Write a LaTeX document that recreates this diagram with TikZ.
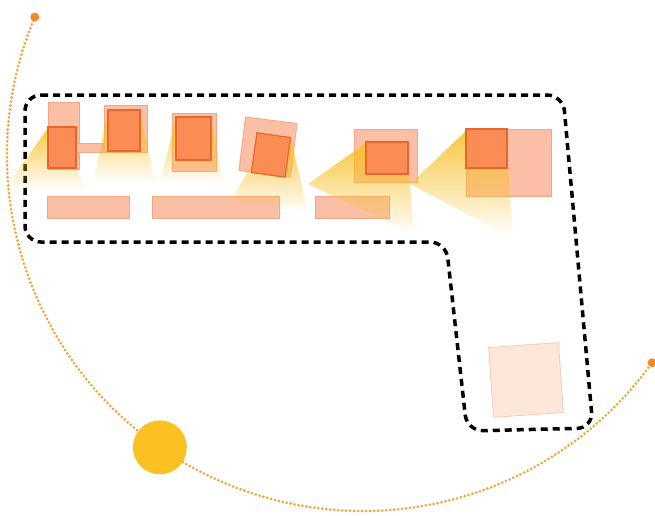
\documentclass[tikz,border=0pt]{standalone}
\usepackage{tikz}
\usetikzlibrary{calc,fadings}

\definecolor{sunyellow}{HTML}{FBC123}
\definecolor{pathorange}{HTML}{F2A53A}
\definecolor{dotorange}{HTML}{F08B2A}
\definecolor{furnfill}{HTML}{FBBFA6}
\definecolor{furnline}{HTML}{F6A585}
\definecolor{lampfill}{HTML}{FA8C55}
\definecolor{lampline}{HTML}{E8652B}
\definecolor{lightcone}{HTML}{F7C12A}
\definecolor{palefill}{HTML}{FDE7DA}
\definecolor{paleline}{HTML}{F8CAB2}

\begin{document}
\begin{tikzpicture}[x=1pt,y=-1pt,
    furniture/.style={fill=furnfill,draw=furnline,line width=0.8pt},
    lamp/.style={fill=lampfill,draw=lampline,line width=1.2pt},
    cone/.style={fill=lightcone,fill opacity=0.9,path fading=south},
    walls/.style={line width=3.5pt,dash pattern=on 7pt off 5pt,rounded corners=16pt},
    sunpath/.style={pathorange,line width=3pt,line cap=round,dash pattern=on 0pt off 4pt}]
    \useasboundingbox (0,0) rectangle (655,515);

    % Sun path
    \coordinate (ctr) at (363,155);
    \draw[sunpath] (ctr) ++(202.8:356) arc[start angle=202.8,end angle=35.7,radius=356];
    \fill[dotorange] (ctr) ++(202.8:356) circle[radius=4.5];
    \fill[dotorange] (ctr) ++(35.7:356) circle[radius=4.5];
    \fill[sunyellow] ($(ctr)+(124.8:356)$) circle[radius=27];

    % Room outline
    \draw[walls] (25,95) -- (563,95) -- (593,428) -- (467,431) -- (446,242) -- (25,242) -- cycle;

    % Furniture
    \draw[furniture] (48,102) rectangle (79,169);
    \draw[furniture] (76,143) rectangle (103,152);
    \draw[furniture] (104,105) rectangle (147,152);
    \draw[furniture] (172,113) rectangle (216,171);
    \draw[furniture,shift={(268,147)},rotate=-7] (-26,-27) rectangle (26,27);
    \draw[furniture] (354,129) rectangle (417,182);
    \draw[furniture] (466,129) rectangle (551,196);
    \draw[furniture] (47,196) rectangle (129,218);
    \draw[furniture] (152,196) rectangle (279,218);
    \draw[furniture] (315,196) rectangle (389,218);
    \draw[fill=palefill,draw=paleline,line width=0.8pt,shift={(526,380)},rotate=4]
        (-35,-35) rectangle (35,35);

    % Light cones
    \fill[cone] (48,128) -- (76,168) -- (86,190) -- (4,190) -- cycle;
    \fill[cone] (108,112) -- (140,112) -- (155,183) -- (93,183) -- cycle;
    \fill[cone] (176,118) -- (211,118) -- (223,184) -- (160,184) -- cycle;
    \fill[cone] (255,160) -- (291,140) -- (308,212) -- (230,202) -- cycle;
    \fill[cone] (366,143) -- (408,160) -- (414,234) -- (308,184) -- cycle;
    \fill[cone] (467,130) -- (507,150) -- (513,238) -- (410,184) -- cycle;

    % Lamps
    \draw[lamp] (48,127) rectangle (76,168);
    \draw[lamp] (108,110) rectangle (140,151);
    \draw[lamp] (176,117) rectangle (211,160);
    \draw[lamp,shift={(271,155)},rotate=-8] (-17,-20) rectangle (17,20);
    \draw[lamp] (366,142) rectangle (408,174);
    \draw[lamp] (466,129) rectangle (507,168);
\end{tikzpicture}
\end{document}
